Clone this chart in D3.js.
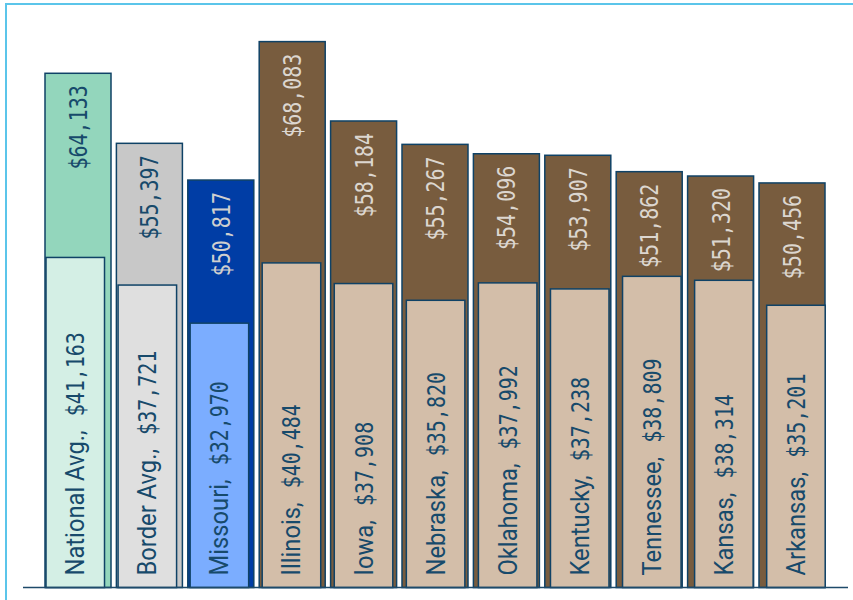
<!DOCTYPE html>
<html>
<head>
<meta charset="utf-8">
<script src="https://cdn.jsdelivr.net/npm/d3@7"></script>
<style>
  html, body { margin: 0; padding: 0; background: #fff; }
  svg { display: block; }
</style>
</head>
<body>
<div id="chart"></div>
<script>
// data
const categories = ["National Avg.", "Border Avg.", "Missouri", "Illinois", "Iowa", "Nebraska",
                    "Oklahoma", "Kentucky", "Tennessee", "Kansas", "Arkansas"];
const backValues = [64133, 55397, 50817, 68083, 58184, 55267, 54096, 53907, 51862, 51320, 50456];
const frontValues = [41163, 37721, 32970, 40484, 37908, 35820, 37992, 37238, 38809, 38314, 35201];
const groups = ["national", "border", "missouri", "state", "state", "state", "state",
                "state", "state", "state", "state"];

document.addEventListener("DOMContentLoaded", function(){

  const widthValue = 853;
  const heightValue = 600;
  const baseY = 587.5;

  const backFill = { national: "#93d6bc", border: "#c8c8c8", missouri: "#003da5", state: "#785c3e" };
  const frontFill = { national: "#d4efe5", border: "#dfdfdf", missouri: "#7badff", state: "#d3bea9" };
  const backText = { national: "#174a6b", border: "#174a6b", missouri: "#cfcfcf", state: "#dcd6cf" };
  const navy = "#174a6b";
  const stroke = "#0f4266";

  const svg = d3.select("#chart")
              .append("svg")
              .attr("width", widthValue)
              .attr("height", heightValue);

  // outer frame (runs off the right and bottom edge)
  svg.append("rect")
      .attr("x", 6).attr("y", 4)
      .attr("width", 900).attr("height", 700)
      .attr("fill", "none")
      .attr("stroke", "#5bc5ea")
      .attr("stroke-width", 2);

  const idx = d3.range(categories.length);

  // two category scales, the front series is spaced a bit wider
  const xBack = d3.scaleBand().domain(idx).range([45, 825]).paddingInner(0.0756).paddingOuter(0);
  const xFront = d3.scaleBand().domain(idx).range([46, 825.2]).paddingInner(0.188).paddingOuter(0);

  const yScale = d3.scaleLinear()
                  .domain([0, 70000])
                  .range([baseY, baseY - 70000 * 0.008018]);

  const fmt = d3.format("$,");
  const numSqueeze = 0.8;
  const nameSqueeze = 0.95;
  const monoFont = "'DejaVu Sans Mono', monospace";

  // back bars
  svg.append("g")
      .selectAll("rect")
      .data(idx)
      .enter()
      .append("rect")
        .attr("x", function(i){ return xBack(i); })
        .attr("y", function(i){ return yScale(backValues[i]); })
        .attr("width", xBack.bandwidth())
        .attr("height", function(i){ return baseY - yScale(backValues[i]); })
        .attr("fill", function(i){ return backFill[groups[i]]; })
        .attr("stroke", stroke)
        .attr("stroke-width", 1.5);

  // back value labels
  svg.append("g")
      .selectAll("text")
      .data(idx)
      .enter()
      .append("text")
        .attr("transform", function(i){
          const x = xBack(i) + xBack.bandwidth() / 2;
          const y = yScale(backValues[i]) + 12;
          return `translate(${x},${y}) rotate(-90) scale(${numSqueeze},1)`;
        })
        .attr("text-anchor", "end")
        .attr("dy", "0.36em")
        .style("font-family", monoFont)
        .style("font-size", "25px")
        .attr("fill", function(i){ return backText[groups[i]]; })
        .text(function(i){ return fmt(backValues[i]); });

  // front bars
  svg.append("g")
      .selectAll("rect")
      .data(idx)
      .enter()
      .append("rect")
        .attr("x", function(i){ return xFront(i); })
        .attr("y", function(i){ return yScale(frontValues[i]); })
        .attr("width", xFront.bandwidth())
        .attr("height", function(i){ return baseY - yScale(frontValues[i]); })
        .attr("fill", function(i){ return frontFill[groups[i]]; })
        .attr("stroke", stroke)
        .attr("stroke-width", 1.5);

  // front labels: name, then value after a gap
  const labels = svg.append("g");
  idx.forEach(function(i){
    const x = xFront(i) + xFront.bandwidth() / 2;
    const y0 = baseY - 12;
    const name = labels.append("text")
        .attr("transform", `translate(${x},${y0}) rotate(-90) scale(${nameSqueeze},1)`)
        .attr("text-anchor", "start")
        .attr("dy", "0.36em")
        .style("font-family", "Roboto, sans-serif")
        .style("font-size", "25px")
        .attr("fill", navy)
        .text(categories[i] + ",");
    const len = name.node().getComputedTextLength() * nameSqueeze;
    labels.append("text")
        .attr("transform", `translate(${x},${y0 - len - 14}) rotate(-90) scale(${numSqueeze},1)`)
        .attr("text-anchor", "start")
        .attr("dy", "0.36em")
        .style("font-family", monoFont)
        .style("font-size", "25px")
        .attr("fill", navy)
        .text(fmt(frontValues[i]));
  });

  // baseline
  svg.append("line")
      .attr("x1", 23).attr("x2", 848)
      .attr("y1", baseY).attr("y2", baseY)
      .attr("stroke", "#1e4a6a")
      .attr("stroke-width", 1.5);
});
</script>
</body>
</html>
